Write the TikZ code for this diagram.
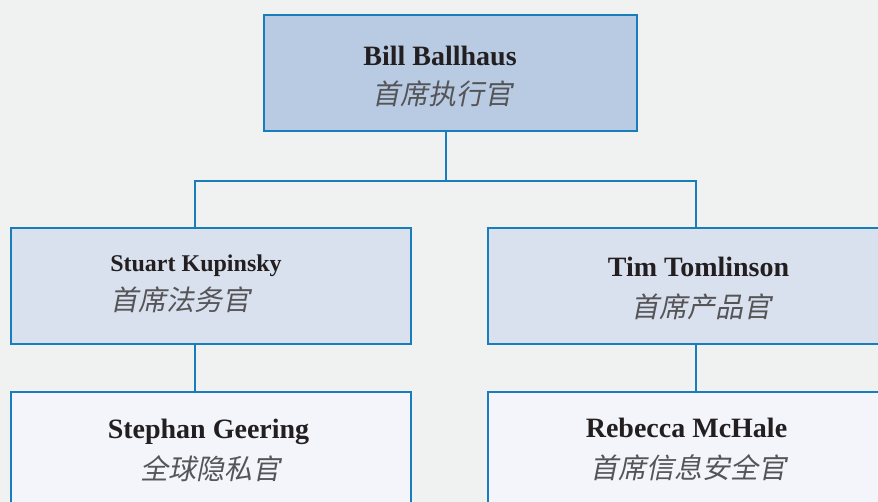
\documentclass[tikz,border=0pt]{standalone}
\usepackage{fontspec}
\setmainfont{Liberation Serif}
\newfontfamily\cjk[FakeSlant=0.2]{Noto Sans CJK SC}
\definecolor{bg}{RGB}{240,242,242}
\definecolor{edge}{RGB}{24,125,186}
\definecolor{fillA}{RGB}{184,203,227}
\definecolor{fillB}{RGB}{218,225,238}
\definecolor{fillC}{RGB}{243,245,250}
\definecolor{nametxt}{RGB}{35,31,32}
\definecolor{roletxt}{RGB}{85,85,88}
\tikzset{
  orgbox/.style={draw=edge, line width=2pt, inner sep=0pt, minimum width=400pt, minimum height=116pt},
  pname/.style={anchor=base, inner sep=0pt, text=nametxt, font=\fontsize{28}{30}\selectfont\bfseries},
  prole/.style={anchor=base, inner sep=0pt, text=roletxt, font=\fontsize{28}{30}\selectfont\cjk},
  link/.style={draw=edge, line width=2pt}
}
\begin{document}
\begin{tikzpicture}[x=1pt,y=-1pt]
\useasboundingbox (0,0) rectangle (878,502);
\fill[bg] (0,0) rectangle (878,502);
\clip (0,0) rectangle (878,502);
% boxes
\node[orgbox, fill=fillA, minimum width=373pt] (top) at (450.5,73) {};
\node[orgbox, fill=fillB] (lm) at (211,286) {};
\node[orgbox, fill=fillB] (rm) at (688,286) {};
\node[orgbox, fill=fillC] (lb) at (211,450) {};
\node[orgbox, fill=fillC] (rb) at (688,450) {};
% connectors
\coordinate (j) at (446,181);
\coordinate (jl) at (195,181);
\coordinate (jr) at (696,181);
\draw[link] (top.south -| j) -- (j);
\draw[link] (lm.north -| jl) -- (jl) -- (jr) -- (rm.north -| jr);
\draw[link] (lm.south -| jl) -- (lb.north -| jl);
\draw[link] (rm.south -| jr) -- (rb.north -| jr);
% texts
\node[pname] (n1) at (440,66) {Bill Ballhaus};
\node[prole] (r1) at (442,105) {首席执行官};
\node[pname, font=\fontsize{24}{26}\selectfont\bfseries] (n2) at (196,272) {Stuart Kupinsky};
\node[prole] (r2) at (180,311) {首席法务官};
\node[pname] (n3) at (698.5,277) {Tim Tomlinson};
\node[prole] (r3) at (701,318) {首席产品官};
\node[pname] (n4) at (208.5,438) {Stephan Geering};
\node[prole] (r4) at (210,479) {全球隐私官};
\node[pname] (n5) at (686.5,437) {Rebecca McHale};
\node[prole] (r5) at (688,478) {首席信息安全官};
\end{tikzpicture}
\end{document}
